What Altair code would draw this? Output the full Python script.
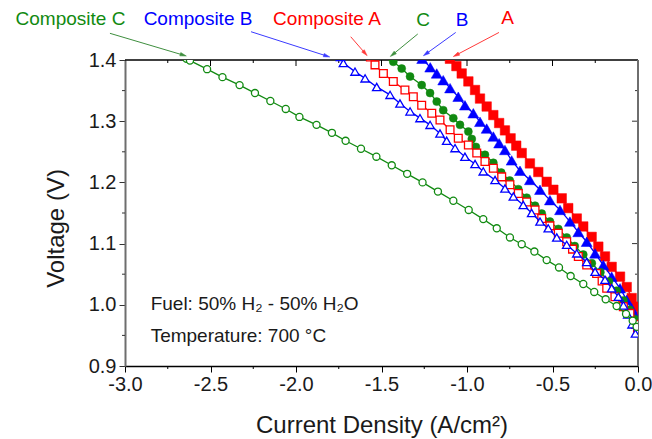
import math
import altair as alt
import pandas as pd

# ---- polarization curves: current density (A/cm^2) vs. cell voltage (V) ----
A_j = [-1.100, -1.062, -1.031, -0.992, -0.953, -0.924, -0.885, -0.846, -0.812, -0.778,
       -0.745, -0.712, -0.680, -0.632, -0.583, -0.534, -0.495, -0.446, -0.408, -0.358,
       -0.320, -0.271, -0.232, -0.193, -0.154, -0.105, -0.066, -0.037, -0.018, -0.005]
A_v = [1.402, 1.390, 1.378, 1.365, 1.351, 1.337, 1.324, 1.310, 1.297, 1.285,
       1.272, 1.260, 1.248, 1.231, 1.217, 1.201, 1.188, 1.174, 1.158, 1.141,
       1.128, 1.111, 1.095, 1.079, 1.062, 1.046, 1.029, 1.011, 0.997, 0.980]

B_j = [-1.262, -1.215, -1.177, -1.139, -1.099, -1.051, -1.012, -0.963, -0.924, -0.885,
       -0.846, -0.812, -0.778, -0.739, -0.690, -0.632, -0.573, -0.515, -0.456, -0.398,
       -0.349, -0.300, -0.251, -0.203, -0.154, -0.105, -0.066, -0.037, -0.018, -0.005]
B_v = [1.402, 1.388, 1.378, 1.367, 1.354, 1.340, 1.326, 1.313, 1.299, 1.288,
       1.275, 1.264, 1.253, 1.236, 1.219, 1.204, 1.188, 1.171, 1.155, 1.136,
       1.119, 1.103, 1.084, 1.065, 1.046, 1.027, 1.008, 0.994, 0.983, 0.972]

C_j = [-1.445, -1.431, -1.382, -1.333, -1.265, -1.216, -1.177, -1.139, -1.080, -1.041,
       -0.992, -0.972, -0.948, -0.895, -0.846, -0.800, -0.750, -0.700, -0.651, -0.602,
       -0.563, -0.515, -0.466, -0.417, -0.370, -0.320, -0.270, -0.220, -0.170, -0.125,
       -0.085, -0.050, -0.020, -0.005]
C_v = [1.405, 1.397, 1.386, 1.373, 1.359, 1.346, 1.332, 1.318, 1.305, 1.294,
       1.283, 1.271, 1.258, 1.245, 1.232, 1.216, 1.203, 1.189, 1.175, 1.162,
       1.149, 1.136, 1.124, 1.110, 1.096, 1.082, 1.068, 1.053, 1.038, 1.023,
       1.007, 0.992, 0.977, 0.963]

CA_j = [-1.565, -1.538, -1.489, -1.431, -1.363, -1.314, -1.265, -1.206, -1.158, -1.099,
        -1.051, -0.992, -0.943, -0.895, -0.846, -0.797, -0.749, -0.700, -0.651, -0.602,
        -0.563, -0.515, -0.466, -0.417, -0.383, -0.349, -0.300, -0.242, -0.210, -0.183,
        -0.135, -0.086, -0.047, -0.015, -0.003]
CA_v = [1.405, 1.392, 1.378, 1.365, 1.351, 1.340, 1.326, 1.313, 1.302, 1.286,
        1.272, 1.261, 1.248, 1.234, 1.223, 1.209, 1.196, 1.182, 1.168, 1.155,
        1.141, 1.129, 1.117, 1.103, 1.091, 1.079, 1.065, 1.051, 1.039, 1.027,
        1.013, 0.997, 0.986, 0.968, 0.958]

CB_j = [-1.740, -1.723, -1.655, -1.596, -1.528, -1.450, -1.392, -1.333, -1.275, -1.216,
        -1.158, -1.119, -1.070, -1.012, -0.953, -0.905, -0.836, -0.778, -0.729, -0.671,
        -0.622, -0.573, -0.525, -0.475, -0.417, -0.358, -0.300, -0.251, -0.193, -0.154,
        -0.115, -0.085, -0.060, -0.035, -0.015]
CB_v = [1.405, 1.395, 1.381, 1.370, 1.356, 1.343, 1.329, 1.316, 1.305, 1.294,
        1.280, 1.268, 1.256, 1.242, 1.230, 1.218, 1.204, 1.190, 1.177, 1.163,
        1.150, 1.136, 1.125, 1.110, 1.098, 1.084, 1.070, 1.054, 1.041, 1.027,
        1.013, 0.999, 0.984, 0.968, 0.953]

CC_j = [-2.640, -2.620, -2.520, -2.430, -2.330, -2.240, -2.150, -2.060, -1.980, -1.880,
        -1.790, -1.710, -1.620, -1.530, -1.440, -1.350, -1.260, -1.170, -1.080, -0.990,
        -0.905, -0.826, -0.749, -0.680, -0.606, -0.534, -0.462, -0.394, -0.320, -0.256,
        -0.189, -0.125, -0.070, -0.031, -0.008]
CC_v = [1.402, 1.399, 1.385, 1.372, 1.359, 1.346, 1.333, 1.320, 1.307, 1.294,
        1.281, 1.268, 1.255, 1.242, 1.228, 1.214, 1.200, 1.185, 1.170, 1.155,
        1.140, 1.125, 1.110, 1.099, 1.087, 1.073, 1.061, 1.047, 1.034, 1.021,
        1.009, 0.998, 0.985, 0.974, 0.964]

RED, BLUE, GREEN = "#ff0000", "#0000ff", "#118a11"

# name, x, y, colour, marker shape, filled, marker size
SERIES = [
    ("A", A_j, A_v, RED, "square", True, 90),
    ("B", B_j, B_v, BLUE, "triangle-up", True, 120),
    ("C", C_j, C_v, GREEN, "circle", True, 64),
    ("Composite A", CA_j, CA_v, RED, "square", False, 60),
    ("Composite B", CB_j, CB_v, BLUE, "triangle-up", False, 70),
    ("Composite C", CC_j, CC_v, GREEN, "circle", False, 50),
]

# ---- callout labels and their arrows (data units, above the 1.4 V frame) ----
LABELS = ["Composite C", "Composite B", "Composite A", "C", "B", "A"]
LABEL_COLORS = [GREEN, BLUE, RED, GREEN, BLUE, RED]
LABEL_J = [-3.319, -2.573, -1.819, -1.257, -1.029, -0.763]
LABEL_V = [1.4572, 1.4572, 1.4572, 1.4556, 1.4556, 1.4588]
ARROW_J0 = [-3.088, -2.263, -1.680, -1.288, -1.066, -0.813]
ARROW_V0 = [1.4436, 1.4462, 1.4380, 1.4425, 1.4450, 1.4450]
ARROW_J1 = [-2.659, -1.820, -1.596, -1.434, -1.240, -1.064]
ARROW_V1 = [1.4080, 1.4065, 1.4110, 1.4090, 1.4100, 1.4080]
ARROW_COLORS = ["#3f8f3f", "#3a3aff", "#ff3a3a", "#3f8f3f", "#3a3aff", "#ff3a3a"]

X_MAJOR = [-3.0, -2.5, -2.0, -1.5, -1.0, -0.5, 0.0]
X_MINOR = [-2.75, -2.25, -1.75, -1.25, -0.75, -0.25]
Y_MAJOR = [0.9, 1.0, 1.1, 1.2, 1.3, 1.4]
Y_MINOR = [0.95, 1.05, 1.15, 1.25, 1.35]

W, H = 513, 306
FONT = "Liberation Sans"

xs = alt.Scale(domain=[-3.0, 0.0], nice=False, zero=False)
ys = alt.Scale(domain=[0.9, 1.4], nice=False, zero=False)

x_axis = alt.Axis(
    values=X_MAJOR, labelExpr="datum.value == 0 ? '0.0' : '-' + format(abs(datum.value), '.1f')",
    tickSize=6, tickColor="#000", tickWidth=1, domainColor="#000", domainWidth=1.5,
    labelFontSize=20, labelColor="#1a1a1a", labelPadding=2, labelFlush=False,
    grid=False, title="Current Density (A/cm²)", titleFontSize=24,
    titleFontWeight="normal", titleColor="#1a1a1a", titleBaseline="alphabetic", titleY=66,
)
y_axis = alt.Axis(
    values=Y_MAJOR, format=".1f", tickSize=6, tickColor="#333", tickWidth=1,
    domainColor="#6e6e6e", domainWidth=2, labelFontSize=20, labelColor="#1a1a1a",
    labelPadding=3, labelFlush=False, grid=False, title="Voltage (V)", titleFontSize=24,
    titleFontWeight="normal", titleColor="#1a1a1a", titleAngle=270, titleAlign="center",
    titleBaseline="alphabetic", titleX=-62, titleY=168,
)

X = alt.X("j:Q", scale=xs, axis=x_axis)
Y = alt.Y("v:Q", scale=ys, axis=y_axis)

layers = []

# frame: inward ticks on top and right, minor ticks outside on bottom and left
def ticks_x(vals, y0, y1):
    df = pd.DataFrame({"j": vals})
    return alt.Chart(df).mark_rule(color="#000", strokeWidth=1).encode(
        x=X, y=alt.value(y0), y2=alt.value(y1))

def ticks_y(vals, x0, x1, color):
    df = pd.DataFrame({"v": vals})
    return alt.Chart(df).mark_rule(color=color, strokeWidth=1).encode(
        y=Y, x=alt.value(x0), x2=alt.value(x1))

layers.append(ticks_x(X_MINOR, H, H + 3))
layers.append(ticks_x(X_MAJOR[1:-1], 0, 6))
layers.append(ticks_x(X_MINOR, 0, 3))
layers.append(ticks_y(Y_MINOR, -3, 0, "#333"))
layers.append(ticks_y(Y_MAJOR[1:-1], W, W - 6, "#333"))
layers.append(ticks_y(Y_MINOR, W, W - 3, "#333"))
frame = pd.DataFrame({"j": [-3.0], "v": [1.4]})
layers.append(alt.Chart(frame).mark_rule(color="#000", strokeWidth=1.5).encode(
    y=Y, x=alt.value(0), x2=alt.value(W)))
layers.append(alt.Chart(frame).mark_rule(color="#6e6e6e", strokeWidth=2).encode(
    x=alt.value(W), y=alt.value(0), y2=alt.value(H)))

# the six curves
for name, js, vs, color, shape, filled, size in SERIES:
    df = pd.DataFrame({"j": js, "v": vs, "cell": name})
    base = alt.Chart(df).encode(x=X, y=Y, order=alt.Order("j:Q"))
    layers.append(base.mark_line(color=color, strokeWidth=1.3, clip=True))
    if filled:
        pts = base.mark_point(shape=shape, size=size, filled=True, fill=color,
                              stroke=color, strokeWidth=0.5, opacity=1, clip=True)
    else:
        pts = base.mark_point(shape=shape, size=size, filled=True, fill="white",
                              stroke=color, strokeWidth=1.3, opacity=1, clip=True)
    layers.append(pts)

# callout arrows
px_per_j = W / 3.0
px_per_v = H / 0.5
angles = []
for j0, v0, j1, v1 in zip(ARROW_J0, ARROW_V0, ARROW_J1, ARROW_V1):
    dx = (j1 - j0) * px_per_j
    dy = -(v1 - v0) * px_per_v
    angles.append(math.degrees(math.atan2(dx, -dy)) % 360)

arrows = pd.DataFrame({"j": ARROW_J0, "v": ARROW_V0, "j2": ARROW_J1, "v2": ARROW_V1,
                       "col": ARROW_COLORS})
layers.append(alt.Chart(arrows).mark_rule(strokeWidth=1).encode(
    x=X, y=Y, x2="j2:Q", y2="v2:Q", color=alt.Color("col:N", scale=None)))

ARROW_HEAD = "M0,-1L0.55,1L-0.55,1Z"
for j1, v1, col, ang in zip(ARROW_J1, ARROW_V1, ARROW_COLORS, angles):
    head = pd.DataFrame({"j": [j1], "v": [v1]})
    layers.append(alt.Chart(head).mark_point(
        shape=ARROW_HEAD, size=40, filled=True, fill=col, stroke=col,
        strokeWidth=0.5, opacity=1, angle=ang).encode(x=X, y=Y))

labels = pd.DataFrame({"j": LABEL_J, "v": LABEL_V, "text": LABELS, "col": LABEL_COLORS})
layers.append(alt.Chart(labels).mark_text(fontSize=19, align="center", baseline="alphabetic",
                                          font=FONT).encode(
    x=X, y=Y, text="text:N", color=alt.Color("col:N", scale=None)))

# operating conditions
NOTES = ["Fuel: 50% H₂ - 50% H₂O", "Temperature: 700 °C"]
notes = pd.DataFrame({"j": [-2.85, -2.85], "v": [0.9915, 0.9397], "text": NOTES})
layers.append(alt.Chart(notes).mark_text(fontSize=19, align="left", baseline="alphabetic",
                                         font=FONT, color="#1a1a1a").encode(
    x=X, y=Y, text="text:N"))

chart = alt.layer(*layers).properties(
    width=W, height=H,
    autosize=alt.AutoSizeParams(type="none"),
    padding={"left": 125, "top": 60, "right": 14, "bottom": 73},
).configure(font=FONT).configure_view(strokeWidth=0)

chart.save("out.html", embed_options={"renderer": "svg", "actions": False})
